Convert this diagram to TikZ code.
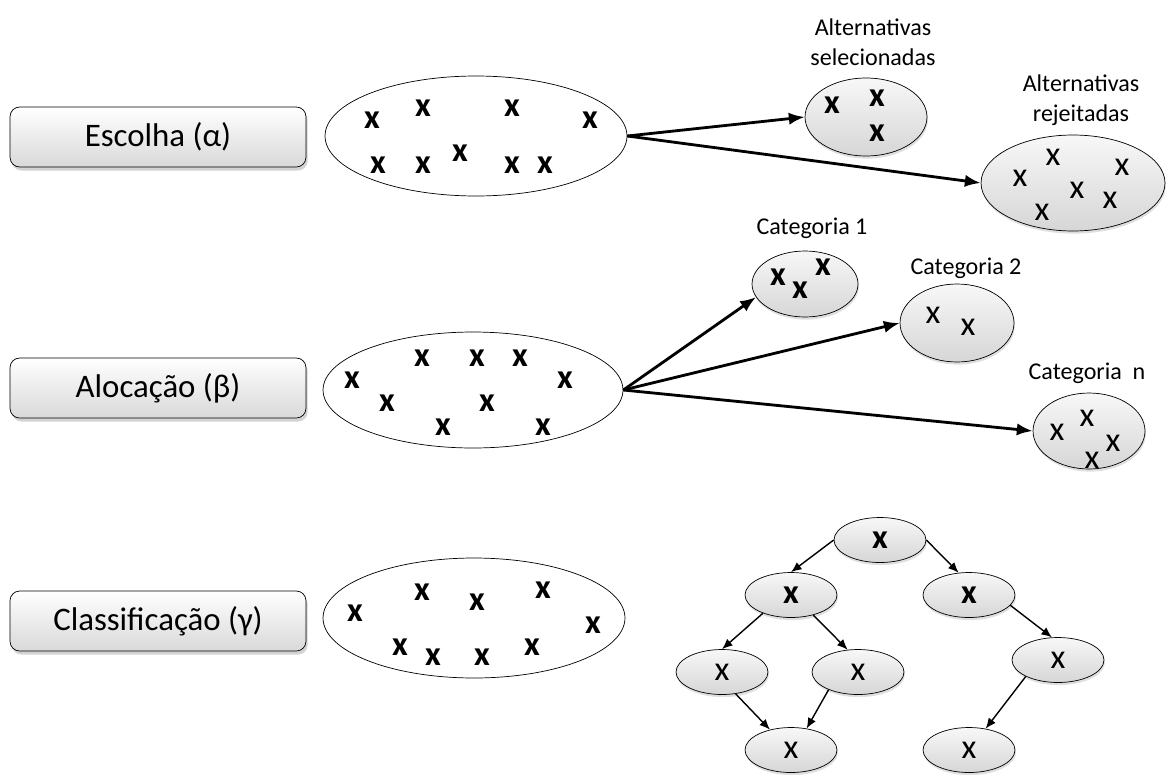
\documentclass[tikz,border=0pt]{standalone}
\usepackage{fontspec}
\setmainfont{Carlito}
\usetikzlibrary{shapes.geometric,arrows.meta,shadows}

\begin{document}
\begin{tikzpicture}[x=0.02cm, y=-0.02cm] % 1 unidade = 1 pixel da figura
\tikzstyle{tipo} = [draw, rounded corners=5.5pt, minimum width=5.92cm, minimum height=1.2cm, top color=white, bottom color=gray!30, drop shadow={opacity=0.35, shadow xshift=1pt, shadow yshift=-2pt}, font=\fontsize{18.7}{22}\selectfont] % caixas da esquerda
\tikzstyle{conj} = [draw, ellipse, fill=white, minimum width=6.04cm, minimum height=2.4cm] % conjunto de alternativas
\tikzstyle{grupo} = [draw, ellipse, inner sep=0pt, top color=gray!6, bottom color=gray!32, drop shadow={opacity=0.25, shadow xshift=0.5pt, shadow yshift=-1.5pt}] % subconjuntos
\tikzstyle{no} = [grupo, minimum width=1.84cm, minimum height=0.9cm, font=\fontsize{19.5}{19.5}\selectfont] % nos da arvore
\tikzstyle{nob} = [no, font=\fontsize{19.5}{19.5}\selectfont\bfseries]
\tikzstyle{alt} = [inner sep=0pt, font=\fontsize{19.5}{19.5}\selectfont] % uma alternativa
\tikzstyle{altb} = [inner sep=0pt, font=\fontsize{19.5}{19.5}\selectfont\bfseries]
\tikzstyle{rot} = [align=center, font=\fontsize{13.7}{17}\selectfont] % rotulos
\tikzstyle{seta} = [-{Latex[length=9pt,width=7pt]}, line width=1.6pt]
\tikzstyle{setinha} = [-{Latex[length=6pt,width=5pt]}, line width=0.8pt]

\useasboundingbox (0,0) rectangle (1168,774);

% caixas
\node[tipo] (escolha) at (158,137) {Escolha (α)};
\node[tipo] (alocacao) at (158,388) {Alocação (β)};
\node[tipo] (classif) at (158,621) {Classificação (γ)};

% conjuntos
\node[conj] (e1) at (476,136) {};
\node[conj, minimum height=2.32cm, minimum width=6cm] (e2) at (473,390) {};
\node[conj] (e3) at (474,618) {};

\foreach \px/\py [count=\i] in {372/120, 423/108, 512/108, 590/120, 378/165, 423/165, 460/153, 512/165, 545/165}
  \node[altb] (a\i) at (\px,\py) {x};
\foreach \px/\py [count=\i] in {422/358, 477/358, 520/358, 352/380, 565/380, 387/403, 487/403, 443/427, 543/427}
  \node[altb] (b\i) at (\px,\py) {x};
\foreach \px/\py [count=\i] in {355/613, 422/592, 477/602, 543/590, 593/625, 400/647, 433/657, 482/657, 532/647}
  \node[altb] (c\i) at (\px,\py) {x};

% escolha
\node[grupo, minimum width=2.44cm, minimum height=1.56cm] (sel) at (866,117) {};
\node[grupo, minimum width=3.68cm, minimum height=1.92cm] (rej) at (1073,183) {};
\node[rot] (lsel) at (873,42) {Alternativas\\selecionadas};
\node[rot] (lrej) at (1081,100) {Alternativas\\rejeitadas};
\foreach \px/\py [count=\i] in {832/105, 877/98, 877/133}
  \node[altb] (s\i) at (\px,\py) {x};
\foreach \px/\py [count=\i] in {1053/157, 1020/178, 1122/167, 1077/190, 1110/200, 1042/212}
  \node[alt] (r\i) at (\px,\py) {x};
\draw[seta] (e1.east) -- (sel.west);
\draw[seta] (e1.east) -- (rej.west);

% alocacao
\node[grupo, minimum width=2.12cm, minimum height=1.32cm] (cat1) at (805,284) {};
\node[grupo, minimum width=2.28cm, minimum height=1.56cm] (cat2) at (957,323) {};
\node[grupo, minimum width=2.24cm, minimum height=1.52cm] (catn) at (1089,431) {};
\node[rot] (lcat1) at (812,228) {Categoria 1};
\node[rot] (lcat2) at (966,268) {Categoria 2};
\node[rot] (lcatn) at (1087,373) {Categoria~ n};
\foreach \px/\py [count=\i] in {778/277, 800/290, 823/267}
  \node[altb] (k\i) at (\px,\py) {x};
\foreach \px/\py [count=\i] in {933/315, 968/327}
  \node[alt] (m\i) at (\px,\py) {x};
\foreach \px/\py [count=\i] in {1057/432, 1087/418, 1113/443, 1092/460}
  \node[alt] (q\i) at (\px,\py) {x};
\draw[seta] (e2.east) -- (cat1.195);
\draw[seta] (e2.east) -- (cat2.west);
\draw[seta] (e2.east) -- (catn.west);

% classificacao
\node[nob] (raiz) at (880,540) {x};
\node[nob] (n1e) at (791,595) {x};
\node[nob] (n1d) at (969,595) {x};
\node[no] (n2a) at (722,672) {x};
\node[no] (n2b) at (858,672) {x};
\node[no] (n2c) at (1058,660) {x};
\node[no] (n3a) at (791,750) {x};
\node[no] (n3b) at (969,750) {x};
\draw[setinha] (raiz.west) -- (n1e.north);
\draw[setinha] (raiz.east) -- (n1d.115);
\draw[setinha] (n1e.213) -- (n2a.north);
\draw[setinha] (n1e.318) -- (n2b.115);
\draw[setinha] (n1d.346) -- (n2c.105);
\draw[setinha] (n2a.302) -- (n3a.136);
\draw[setinha] (n2b.211) -- (n3a.54);
\draw[setinha] (n2c.207) -- (n3b.52);
\end{tikzpicture}
\end{document}
